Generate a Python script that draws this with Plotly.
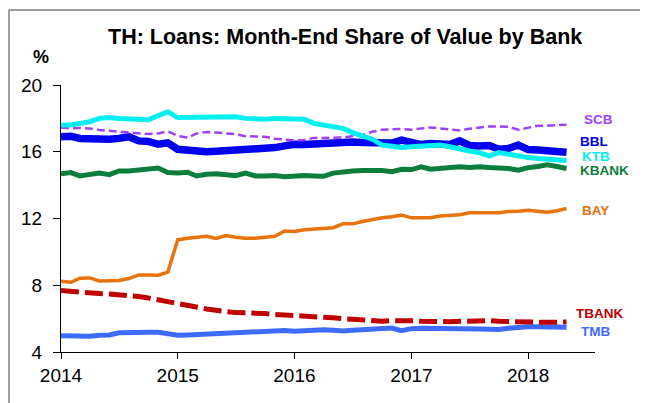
import pandas as pd
import plotly.graph_objects as go

dates = pd.date_range("2014-01-01", periods=53, freq="MS")

ktb = [17.6, 17.6, 17.7, 17.8, 18.0, 18.05, 18.0, 18.0, 17.95, 17.92, 18.2, 18.4,
       18.05, 18.05, 18.05, 18.1, 18.05, 18.05, 18.1, 18.0, 17.95, 17.95, 18.0, 18.0,
       17.98, 17.95, 17.7, 17.6, 17.5, 17.4, 17.15, 16.95, 16.75, 16.4, 16.3, 16.25,
       16.3, 16.35, 16.4, 16.4, 16.3, 16.15, 16.05, 15.95, 15.75, 15.95, 15.85, 15.7,
       15.65, 15.6, 15.55, 15.5, 15.47]
scb = [17.45, 17.4, 17.42, 17.4, 17.3, 17.25, 17.18, 17.12, 17.1, 17.06, 17.1, 17.22,
       16.95, 16.85, 17.1, 17.18, 17.15, 17.08, 17.05, 16.93, 16.93, 16.9, 16.78, 16.72,
       16.68, 16.7, 16.83, 16.83, 16.83, 16.85, 16.95, 17.0, 17.2, 17.32, 17.35, 17.36,
       17.32, 17.4, 17.46, 17.4, 17.35, 17.28, 17.38, 17.45, 17.52, 17.52, 17.5, 17.32,
       17.45, 17.56, 17.56, 17.58, 17.62]
bbl = [16.9, 16.93, 16.8, 16.75, 16.73, 16.75, 16.8, 16.9, 16.65, 16.62, 16.45, 16.53,
       16.15, 16.08, 16.12, 16.0, 16.03, 16.05, 16.08, 16.1, 16.12, 16.15, 16.25, 16.35,
       16.45, 16.43, 16.48, 16.43, 16.55, 16.58, 16.58, 16.55, 16.52, 16.5, 16.52, 16.7,
       16.55, 16.43, 16.5, 16.5, 16.43, 16.65, 16.38, 16.35, 16.37, 16.15, 16.2, 16.4,
       16.13, 16.1, 16.05, 16.0, 15.97]
kbank = [14.68, 14.75, 14.55, 14.65, 14.72, 14.63, 14.85, 14.85, 14.9, 15.0, 15.03, 14.75,
         14.72, 14.77, 14.55, 14.65, 14.68, 14.62, 14.57, 14.72, 14.55, 14.55, 14.57, 14.5,
         14.55, 14.57, 14.55, 14.53, 14.72, 14.8, 14.85, 14.87, 14.88, 14.88, 14.8, 14.95,
         14.93, 15.1, 14.95, 15.0, 15.1, 15.1, 15.05, 15.1, 15.05, 15.05, 15.0, 14.9,
         15.05, 15.12, 15.22, 15.12, 15.0]
bay = [8.24, 8.18, 8.42, 8.44, 8.26, 8.28, 8.28, 8.4, 8.62, 8.62, 8.6, 8.78,
       10.72, 10.82, 10.86, 10.93, 10.8, 10.98, 10.88, 10.82, 10.82, 10.88, 10.93, 11.25,
       11.22, 11.32, 11.36, 11.38, 11.45, 11.68, 11.68, 11.82, 11.95, 12.05, 12.1, 12.2,
       12.04, 12.04, 12.05, 12.15, 12.2, 12.22, 12.34, 12.34, 12.34, 12.35, 12.42, 12.43,
       12.5, 12.45, 12.38, 12.47, 12.6]
tbank = [7.68, 7.62, 7.56, 7.54, 7.5, 7.48, 7.45, 7.4, 7.32, 7.24, 7.12, 7.0,
         6.9, 6.75, 6.68, 6.58, 6.5, 6.42, 6.36, 6.35, 6.35, 6.3, 6.25, 6.22,
         6.2, 6.18, 6.16, 6.14, 6.05, 6.0, 5.95, 5.9, 5.85, 5.85, 5.88, 5.9,
         5.88, 5.85, 5.82, 5.8, 5.82, 5.84, 5.86, 5.9, 5.88, 5.84, 5.82, 5.78,
         5.78, 5.78, 5.78, 5.79, 5.8]
tmb = [4.98, 4.96, 4.91, 4.95, 5.0, 5.02, 5.15, 5.18, 5.19, 5.19, 5.18, 5.1,
       5.0, 5.02, 5.05, 5.06, 5.05, 5.08, 5.11, 5.2, 5.25, 5.28, 5.3, 5.29,
       5.25, 5.3, 5.34, 5.34, 5.3, 5.26, 5.3, 5.34, 5.36, 5.4, 5.44, 5.28,
       5.4, 5.42, 5.42, 5.43, 5.44, 5.42, 5.4, 5.38, 5.36, 5.35, 5.42, 5.5,
       5.52, 5.52, 5.52, 5.5, 5.48]

banks = ["TMB", "TBANK", "BAY", "KBANK", "BBL", "SCB", "KTB"]
series = [tmb, tbank, bay, kbank, bbl, scb, ktb]
colors = ["#3D6BFF", "#C00000", "#E8720C", "#0B7E3C", "#0000F0", "#A040FF", "#00F0F0"]
widths = [5, 5, 3.5, 5, 7.5, 2.5, 5]
dashes = ["solid", "18px,6px", "solid", "solid", "solid", "8px,4px", "solid"]
label_y = [5.2, 6.3, 12.45, 14.88, 16.6, 17.92, 15.74]
label_x = [0.972, 0.9625, 0.974, 0.970, 0.970, 0.9775, 0.974]

font = "Liberation Sans, Arial, sans-serif"
fig = go.Figure()
for name, vals, c, w, d in zip(banks, series, colors, widths, dashes):
    fig.add_trace(go.Scatter(x=dates, y=vals, mode="lines", name=name,
                             line=dict(color=c, width=w, dash=d)))

for name, c, ly, lx in zip(banks, colors, label_y, label_x):
    fig.add_annotation(x=lx, xref="paper", y=ly, yref="y", text="<b>%s</b>" % name,
                       showarrow=False, xanchor="left", yanchor="middle", borderpad=0,
                       font=dict(family=font, size=13.5, color=c))

fig.add_annotation(x=0.532, y=1.18, xref="paper", yref="paper", showarrow=False,
                   text="<b>TH: Loans: Month-End Share of Value by Bank</b>",
                   font=dict(family=font, size=21.5, color="black"), xanchor="center", yanchor="middle")
fig.add_annotation(x=-0.037, y=1.105, xref="paper", yref="paper", showarrow=False,
                   text="<b>%</b>", font=dict(family=font, size=18, color="black"),
                   xanchor="center", yanchor="middle")

fig.add_shape(type="rect", xref="paper", yref="paper", x0=-0.0974, x1=1.086, y0=-0.3, y1=1.281,
              line=dict(color="#808080", width=1.5))

fig.update_layout(
    width=640, height=395, showlegend=False,
    margin=dict(l=53, r=53, t=77, b=51),
    plot_bgcolor="white", paper_bgcolor="white",
    font=dict(family=font, size=19, color="black"),
    xaxis=dict(range=["2014-01-01", "2018-07-29"], type="date", tickformat="%Y",
               dtick="M12", tick0="2014-01-01", showgrid=False, zeroline=False,
               showline=True, linecolor="black", linewidth=1, ticks="outside",
               ticklen=6, tickcolor="black"),
    yaxis=dict(range=[4, 20], dtick=4, showgrid=False, zeroline=False,
               showline=True, linecolor="black", linewidth=1, ticks="outside",
               ticklen=7, tickcolor="black", ticklabelstandoff=7),
)
fig.write_html("out.html")
